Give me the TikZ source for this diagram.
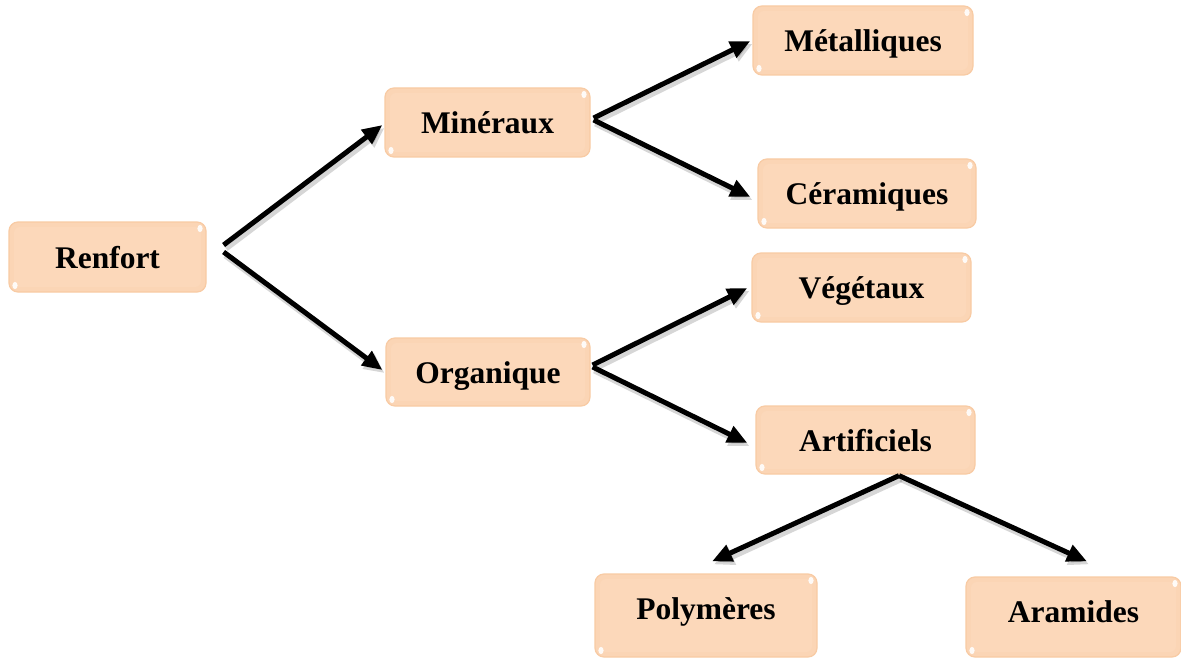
\documentclass[tikz,border=0pt]{standalone}
\usepackage{fontspec}
\setmainfont{Liberation Serif}
\usetikzlibrary{arrows.meta,calc}
\definecolor{boxfill}{HTML}{FBD5B5}
\definecolor{boxedge}{HTML}{F8CBA4}
\definecolor{boxinner}{HTML}{FCD8BA}
\tikzset{
  catbox/.style={
    rectangle, rounded corners=9pt, fill=boxfill, draw=boxedge, line width=1.2pt,
    inner sep=0pt, font=\fontsize{31.5}{36}\selectfont\bfseries, text=black,
    text height=24pt, text depth=2pt,
    path picture={
      \fill[boxinner, rounded corners=6pt]
        ($(path picture bounding box.south west)+(5pt,5pt)$) rectangle
        ($(path picture bounding box.north east)+(-5pt,-5pt)$);
      \fill[white, opacity=.9] ($(path picture bounding box.north east)+(-6pt,-6.5pt)$)
        ellipse [x radius=2.6pt, y radius=3.6pt];
      \fill[white, opacity=.9] ($(path picture bounding box.south west)+(6pt,6.5pt)$)
        ellipse [x radius=2.6pt, y radius=3.6pt];
    }
  },
  link/.style={line width=5pt, black, -{Triangle[length=20pt,width=17pt]}},
  linkshadow/.style={line width=7pt, black, opacity=.16, -{Triangle[length=20pt,width=18pt]}}
}
\newcommand{\linkto}[2]{%
  \draw[linkshadow] ($#1+(2,3)$) -- ($#2+(2,3)$);
  \draw[link] #1 -- #2;
}
\begin{document}
\begin{tikzpicture}[x=1pt,y=-1pt]
  \useasboundingbox[fill=white] (0,0) rectangle (1181,658);

  % category boxes
  \node[catbox, minimum width=197pt, minimum height=70pt] (renfort)   at (107.5,257)   {Renfort};
  \node[catbox, minimum width=205pt, minimum height=69pt] (mineraux)  at (487.5,122.5) {Minéraux};
  \node[catbox, minimum width=204pt, minimum height=68pt] (organique) at (488,372)     {Organique};
  \node[catbox, minimum width=220pt, minimum height=69pt] (metal)     at (863,40.5)    {Métalliques};
  \node[catbox, minimum width=218pt, minimum height=69pt] (ceram)     at (867,193.5)   {Céramiques};
  \node[catbox, minimum width=219pt, minimum height=69pt] (veget)     at (861.5,287.5) {Végétaux};
  \node[catbox, minimum width=219pt, minimum height=68pt] (artif)     at (865.5,440)   {Artificiels};
  \node[catbox, minimum width=222pt, minimum height=83pt,
        text height=16pt, text depth=8pt] (poly) at (706,615.5)  {Polymères};
  \node[catbox, minimum width=215pt, minimum height=80pt,
        text height=18pt, text depth=7pt] (aram) at (1073.5,617) {Aramides};

  % branch origins
  \coordinate (r1) at ($(renfort.east)+(17,-12)$);
  \coordinate (r2) at ($(renfort.east)+(17,-5)$);
  \coordinate (m1) at ($(mineraux.east)+(3,-4.5)$);
  \coordinate (m2) at ($(mineraux.east)+(3,-2.5)$);
  \coordinate (o1) at ($(organique.east)+(2,-7)$);
  \coordinate (o2) at ($(organique.east)+(2,-5)$);
  \coordinate (a0) at ($(artif.south)+(33.5,1)$);

  % connectors
  \linkto{(r1)}{($(mineraux.west)+(-2,2.5)$)}
  \linkto{(r2)}{($(organique.west)+(-3,-2)$)}
  \linkto{(m1)}{($(metal.west)+(-2,0.5)$)}
  \linkto{(m2)}{($(ceram.west)+(-7,3.5)$)}
  \linkto{(o1)}{($(veget.west)+(-4,0.5)$)}
  \linkto{(o2)}{($(artif.west)+(-8,3)$)}
  \linkto{(a0)}{($(poly.north)+(6,-12)$)}
  \linkto{(a0)}{($(aram.north)+(13.5,-15)$)}
\end{tikzpicture}
\end{document}
